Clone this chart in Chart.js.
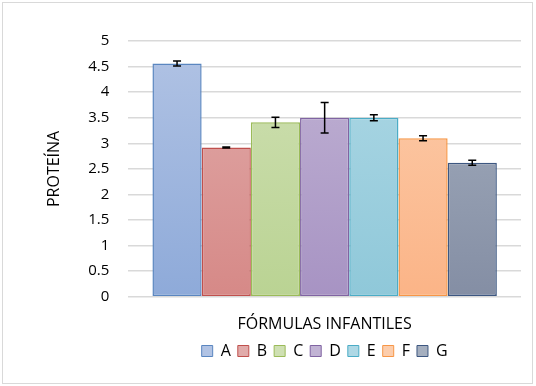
<!DOCTYPE html>
<html>
<head>
<meta charset="utf-8">
<script src="https://cdn.jsdelivr.net/npm/chart.js@4"></script>
<style>
    body { margin: 0; background: #fff; }
    .frame { position: absolute; left: 2px; top: 2px; width: 529px; height: 380px; border: 1px solid #d9d9d9; }
    .wrap { position: absolute; left: 0; top: 0; width: 536px; height: 386px; }
</style>
</head>
<body>
<div class="frame"></div>
<div class="wrap"><canvas id="chart" width="536" height="386"></canvas></div>
<script>
const categories = ['A', 'B', 'C', 'D', 'E', 'F', 'G'];
const proteinValues = [4.56, 2.92, 3.41, 3.5, 3.5, 3.1, 2.62];
const errorValues = [0.05, 0.01, 0.1, 0.3, 0.06, 0.05, 0.05];
const yTicks = [0, 0.5, 1, 1.5, 2, 2.5, 3, 3.5, 4, 4.5, 5];

const topColors = ['#b1c3e4', '#e1abaa', '#cfe0b3', '#c1b3d4', '#aed8e5', '#fccdac', '#a5afbf'];
const bottomColors = ['#8eaad9', '#d68987', '#bad393', '#a793c3', '#8fc8d9', '#fbb487', '#848ea4'];
const borderColors = ['#5a86c0', '#c0504d', '#9bbb59', '#8064a2', '#4bacc6', '#f79646', '#3d5781'];

const FONT = "'Open Sans', 'DejaVu Sans', sans-serif";

function makeFill(i) {
    return (ctx) => {
        const area = ctx.chart.chartArea;
        if (!area) return bottomColors[i];
        const g = ctx.chart.ctx.createLinearGradient(0, area.top, 0, area.bottom);
        g.addColorStop(0, topColors[i]);
        g.addColorStop(1, bottomColors[i]);
        return g;
    };
}

// legend centred under the plot area, like the original
const legendUnderPlot = {
    id: 'legendUnderPlot',
    afterLayout(chart) {
        if (!chart.legend) return;
        chart.legend.left = chart.chartArea.left;
        chart.legend.right = chart.chartArea.right;
    }
};

const errorBars = {
    id: 'errorBars',
    afterDatasetsDraw(chart) {
        const ctx = chart.ctx;
        const y = chart.scales.y;
        ctx.save();
        ctx.strokeStyle = '#000';
        ctx.lineWidth = 1.5;
        chart.data.datasets.forEach((ds, i) => {
            const bar = chart.getDatasetMeta(i).data[0];
            const v = ds.data[0];
            const err = errorValues[i];
            const top = y.getPixelForValue(v + err);
            const bot = y.getPixelForValue(v - err);
            const x = bar.x;
            ctx.beginPath();
            ctx.moveTo(x, top); ctx.lineTo(x, bot);
            ctx.moveTo(x - 4, top); ctx.lineTo(x + 4, top);
            ctx.moveTo(x - 4, bot); ctx.lineTo(x + 4, bot);
            ctx.stroke();
        });
        ctx.restore();
    }
};

const datasets = categories.map((name, i) => ({
    label: name,
    data: [proteinValues[i]],
    backgroundColor: makeFill(i),
    borderColor: borderColors[i],
    borderWidth: 1.5,
    borderSkipped: false,
    categoryPercentage: 0.877,
    barPercentage: 1,
}));

new Chart(document.getElementById('chart'), {
    type: 'bar',
    data: { labels: ['FÓRMULAS INFANTILES'], datasets: datasets },
    options: {
        responsive: false,
        animation: false,
        layout: { padding: { left: 45, right: 15, top: 41, bottom: 17 } },
        plugins: {
            tooltip: { enabled: false },
            legend: {
                position: 'bottom',
                labels: {
                    color: '#000',
                    font: { family: FONT, size: 16 },
                    boxWidth: 11,
                    boxHeight: 11,
                    padding: 7,
                    generateLabels: (chart) => chart.data.datasets.map((ds, i) => ({
                        text: ds.label,
                        fillStyle: topColors[i],
                        strokeStyle: borderColors[i],
                        lineWidth: 1,
                        datasetIndex: i,
                        fontColor: '#000',
                    })),
                },
            },
        },
        scales: {
            x: {
                grid: { display: false },
                border: { display: false },
                ticks: { display: false },
                title: {
                    display: true,
                    text: 'FÓRMULAS INFANTILES',
                    color: '#000',
                    font: { family: FONT, size: 16 },
                    padding: { top: 10, bottom: 2 },
                },
            },
            y: {
                min: 0,
                max: 5,
                afterBuildTicks: (axis) => { axis.ticks = yTicks.map(v => ({ value: v })); },
                grid: { color: '#d9d9d9', lineWidth: 1.5, drawTicks: false },
                border: { display: false },
                ticks: {
                    color: '#000',
                    font: { family: FONT, size: 15 },
                    padding: 19,
                    callback: (v) => String(v),
                },
                title: {
                    display: true,
                    text: 'PROTEÍNA',
                    color: '#000',
                    font: { family: FONT, size: 16 },
                    padding: { top: 0, bottom: 5 },
                },
            },
        },
    },
    plugins: [errorBars, legendUnderPlot],
});
</script>
</body>
</html>
